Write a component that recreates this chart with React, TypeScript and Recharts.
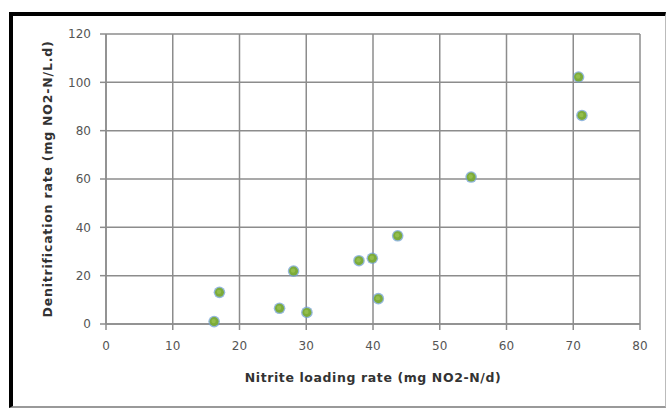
import React from "react";
import { ScatterChart, Scatter, XAxis, YAxis, CartesianGrid, Label } from "recharts";

const loadingRate = [16.2, 17.0, 26.0, 28.1, 30.1, 37.9, 39.9, 40.8, 43.7, 54.7, 70.8, 71.3];
const denitRate = [1.0, 13.1, 6.5, 21.9, 4.8, 26.2, 27.2, 10.5, 36.5, 60.8, 102.2, 86.3];
const xTicks = [0, 10, 20, 30, 40, 50, 60, 70, 80];
const yTicks = [0, 20, 40, 60, 80, 100, 120];

const data = loadingRate.map((x, i) => ({ x, y: denitRate[i] }));

const FONT = "'DejaVu Sans', Verdana, sans-serif";
const GRID = "#8c8c8c";

const Dot = (props: any) => {
  const { cx, cy } = props;
  if (cx == null || cy == null) return null;
  return (
    <g>
      <circle cx={cx} cy={cy} r={5.8} fill="#6f9fd0" opacity={0.75} />
      <circle cx={cx} cy={cy} r={4.5} fill="#7cab3a" />
      <circle cx={cx - 0.5} cy={cy - 0.5} r={2.2} fill="#93be4c" />
    </g>
  );
};

const YTitle = (props: any) => {
  const vb = props.viewBox;
  const cx = vb.x + 47;
  const cy = vb.y + vb.height / 2;
  return (
    <text
      x={cx}
      y={cy}
      transform={`rotate(-90, ${cx}, ${cy})`}
      textAnchor="middle"
      dominantBaseline="central"
      fontFamily={FONT}
      fontSize={12.5}
      fontWeight="bold"
      letterSpacing={0.8}
      fill="#333"
    >
      Denitrification rate (mg NO2-N/L.d)
    </text>
  );
};

const XTitle = (props: any) => {
  const vb = props.viewBox;
  return (
    <text
      x={vb.x + vb.width / 2}
      y={vb.y + 53}
      textAnchor="middle"
      dominantBaseline="central"
      fontFamily={FONT}
      fontSize={12.5}
      fontWeight="bold"
      letterSpacing={0.6}
      fill="#333"
    >
      Nitrite loading rate (mg NO2-N/d)
    </text>
  );
};

export default function App() {
  return (
    <div
      style={{
        position: "absolute",
        left: 0,
        top: 0,
        width: 667,
        height: 408,
        background: "#fff",
        overflow: "hidden",
      }}
    >
      <div
        style={{
          position: "absolute",
          left: 9,
          top: 12,
          width: 667 - 9 - 2 - 4,
          height: 408 - 12 - 0 - 2 - 4,
          borderTop: "4.5px solid #000",
          borderLeft: "4.5px solid #000",
          borderRight: "1.5px solid #bbb",
          borderBottom: "2px solid #999",
        }}
      />
      <div style={{ position: "absolute", left: 0, top: 0 }}>
        <ScatterChart
          width={667}
          height={408}
          margin={{ top: 34, right: 27, bottom: 24, left: 0 }}
        >
          <CartesianGrid stroke={GRID} strokeWidth={1.5} />
          <XAxis
            type="number"
            dataKey="x"
            domain={[0, 80]}
            ticks={xTicks}
            interval={0}
            height={60}
            stroke={GRID}
            strokeWidth={1.5}
            tickSize={6}
            tickMargin={11}
            tick={{ fill: "#555", fontSize: 12, fontFamily: FONT }}
          >
            <Label content={<XTitle />} />
          </XAxis>
          <YAxis
            type="number"
            dataKey="y"
            domain={[0, 120]}
            ticks={yTicks}
            interval={0}
            width={106}
            stroke={GRID}
            strokeWidth={1.5}
            tickSize={6}
            tickMargin={9}
            tick={{ fill: "#555", fontSize: 12, fontFamily: FONT }}
          >
            <Label content={<YTitle />} />
          </YAxis>
          <Scatter data={data} shape={<Dot />} isAnimationActive={false} />
        </ScatterChart>
      </div>
    </div>
  );
}
